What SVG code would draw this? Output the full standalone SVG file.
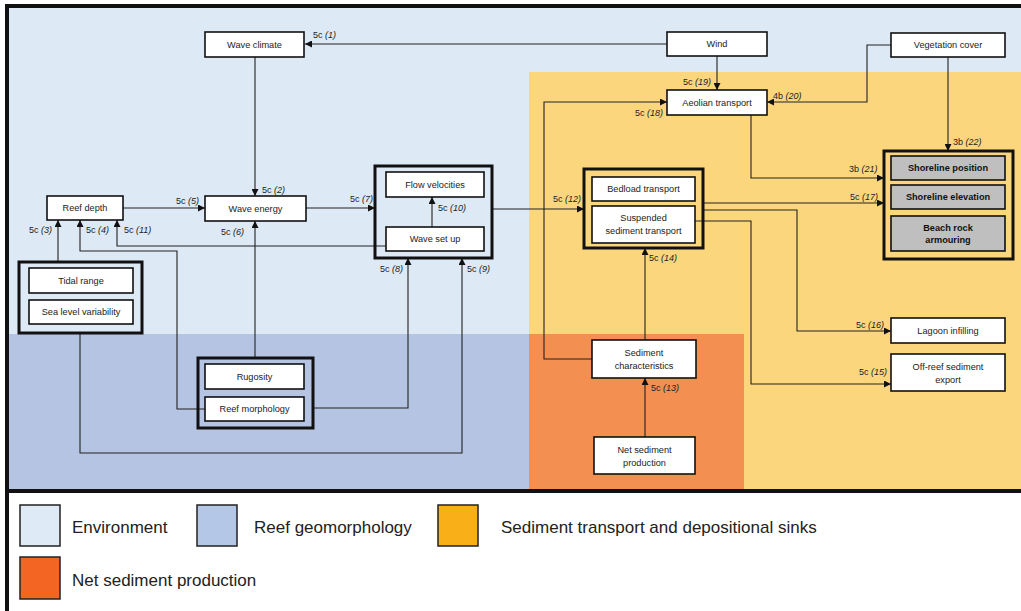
<svg xmlns="http://www.w3.org/2000/svg" width="1021" height="611" viewBox="0 0 1021 611">
<style>
.n{fill:#fff;stroke:#111;stroke-width:1.6}
.g{fill:none;stroke:#111;stroke-width:3}
.s{fill:#bfbfbf;stroke:#111;stroke-width:1.6}
.t{font-family:"Liberation Sans",Arial,sans-serif;font-size:9.2px;fill:#222;text-anchor:middle}
.b{font-weight:bold;fill:#111}
.l{font-family:"Liberation Sans",Arial,sans-serif;font-size:9px;fill:#222}
.l tspan{font-style:italic}
.c{fill:none;stroke:#222;stroke-width:1.1;marker-end:url(#ah)}
.lg{font-family:"Liberation Sans",Arial,sans-serif;font-size:17px;fill:#222}
.sw{stroke:#222;stroke-width:1.5}
</style>
<defs>
<marker id="ah" viewBox="0 0 10 10" refX="10" refY="5" markerWidth="7" markerHeight="7" markerUnits="userSpaceOnUse" orient="auto"><path d="M0,0 L10,5 L0,10 z" fill="#111"/></marker>
</defs>
<rect x="0" y="0" width="1021" height="611" fill="#fff"/>
<g id="regions">
<rect x="9" y="8" width="1012" height="481" fill="#dde9f4"/>
<rect x="9" y="334" width="520" height="155" fill="#b4c4e2"/>
<rect x="529" y="72" width="492" height="417" fill="#fcd67d"/>
<rect x="529" y="334" width="215" height="155" fill="#f38f50"/>
<rect x="5" y="4" width="1016" height="4" fill="#111"/>
<rect x="5" y="4" width="4" height="607" fill="#111"/>
<rect x="5" y="489" width="1016" height="4" fill="#111"/>
</g>
<g id="connectors">
<path class="c" d="M667,44 H305"/>
<path class="c" d="M255,57 V196"/>
<path class="c" d="M123,208 H205"/>
<path class="c" d="M58,262 V220"/>
<path class="c" d="M205,409 H177 V251 H80 V220"/>
<path class="c" d="M386,246 H117 V220"/>
<path class="c" d="M255,358 V221"/>
<path class="c" d="M306,208 H375"/>
<path class="c" d="M432,227 V197"/>
<path class="c" d="M313,408 H408 V258"/>
<path class="c" d="M80,333 V453 H462 V258"/>
<path class="c" d="M492,209 H584"/>
<path class="c" d="M645,437 V378"/>
<path class="c" d="M645,340 V248"/>
<path class="c" d="M592,359 H544 V102 H667"/>
<path class="c" d="M717,56 V90"/>
<path class="c" d="M891,45 H867 V102 H767"/>
<path class="c" d="M948,57 V151"/>
<path class="c" d="M751,115 V178 H884"/>
<path class="c" d="M703,203 H884"/>
<path class="c" d="M703,210 H797 V331 H891"/>
<path class="c" d="M695,221 H751 V384 H891"/>
</g>
<g id="labels">
<text class="l" x="313" y="38">5c <tspan>(1)</tspan></text>
<text class="l" x="262" y="193">5c <tspan>(2)</tspan></text>
<text class="l" x="29" y="233">5c <tspan>(3)</tspan></text>
<text class="l" x="86" y="233">5c <tspan>(4)</tspan></text>
<text class="l" x="176" y="204">5c <tspan>(5)</tspan></text>
<text class="l" x="221" y="235">5c <tspan>(6)</tspan></text>
<text class="l" x="350" y="202">5c <tspan>(7)</tspan></text>
<text class="l" x="380" y="272">5c <tspan>(8)</tspan></text>
<text class="l" x="467" y="272">5c <tspan>(9)</tspan></text>
<text class="l" x="438" y="211">5c <tspan>(10)</tspan></text>
<text class="l" x="124" y="233">5c <tspan>(11)</tspan></text>
<text class="l" x="553" y="202">5c <tspan>(12)</tspan></text>
<text class="l" x="651" y="391">5c <tspan>(13)</tspan></text>
<text class="l" x="649" y="261">5c <tspan>(14)</tspan></text>
<text class="l" x="859" y="375">5c <tspan>(15)</tspan></text>
<text class="l" x="856" y="328">5c <tspan>(16)</tspan></text>
<text class="l" x="850" y="200">5c <tspan>(17)</tspan></text>
<text class="l" x="635" y="116">5c <tspan>(18)</tspan></text>
<text class="l" x="683" y="85">5c <tspan>(19)</tspan></text>
<text class="l" x="773" y="99">4b <tspan>(20)</tspan></text>
<text class="l" x="849" y="172">3b <tspan>(21)</tspan></text>
<text class="l" x="953" y="145">3b <tspan>(22)</tspan></text>
</g>
<g id="wave-climate"><rect class="n" x="205" y="32" width="99" height="25"/><text class="t" x="254.5" y="47.5">Wave climate</text></g>
<g id="wind"><rect class="n" x="667" y="32" width="100" height="24"/><text class="t" x="717" y="47">Wind</text></g>
<g id="vegetation-cover"><rect class="n" x="891" y="33" width="114" height="24"/><text class="t" x="948" y="48">Vegetation cover</text></g>
<g id="aeolian-transport"><rect class="n" x="667" y="90" width="100" height="25"/><text class="t" x="717" y="105.5">Aeolian transport</text></g>
<g id="reef-depth"><rect class="n" x="47" y="196" width="76" height="24"/><text class="t" x="85" y="211">Reef depth</text></g>
<g id="wave-energy"><rect class="n" x="205" y="196" width="101" height="25"/><text class="t" x="255.5" y="211.5">Wave energy</text></g>
<g id="tide-sea-level">
<rect class="g" x="19" y="262" width="123" height="71"/>
<rect class="n" x="29" y="268" width="104" height="25"/><text class="t" x="81" y="283.5">Tidal range</text>
<rect class="n" x="29" y="300" width="104" height="24"/><text class="t" x="81" y="315">Sea level variability</text>
</g>
<g id="flow-group">
<rect class="g" x="375" y="166" width="117" height="92"/>
<rect class="n" x="386" y="172" width="98" height="25"/><text class="t" x="435" y="187.5">Flow velocities</text>
<rect class="n" x="386" y="227" width="98" height="24"/><text class="t" x="435" y="242">Wave set up</text>
</g>
<g id="transport-group">
<rect class="g" x="584" y="169" width="119" height="79"/>
<rect class="n" x="592" y="177" width="103" height="24"/><text class="t" x="643.5" y="192">Bedload transport</text>
<rect class="n" x="592" y="206" width="103" height="37"/><text class="t" x="643.5" y="221">Suspended</text><text class="t" x="643.5" y="233.5">sediment transport</text>
</g>
<g id="shoreline-group">
<rect class="g" x="884" y="151" width="129" height="108"/>
<rect class="s" x="891" y="156" width="114" height="24"/><text class="t b" x="948" y="171">Shoreline position</text>
<rect class="s" x="891" y="185" width="114" height="24"/><text class="t b" x="948" y="200">Shoreline elevation</text>
<rect class="s" x="891" y="216" width="114" height="35"/><text class="t b" x="948" y="230.5">Beach rock</text><text class="t b" x="948" y="243">armouring</text>
</g>
<g id="reef-group">
<rect class="g" x="198" y="358" width="115" height="70"/>
<rect class="n" x="205" y="364" width="99" height="25"/><text class="t" x="254.5" y="379.5">Rugosity</text>
<rect class="n" x="205" y="397" width="99" height="24"/><text class="t" x="254.5" y="412">Reef morphology</text>
</g>
<g id="sediment-characteristics"><rect class="n" x="592" y="340" width="104" height="38"/><text class="t" x="644" y="356">Sediment</text><text class="t" x="644" y="368.5">characteristics</text></g>
<g id="net-sediment-production"><rect class="n" x="594" y="437" width="101" height="37"/><text class="t" x="644.5" y="453">Net sediment</text><text class="t" x="644.5" y="465.5">production</text></g>
<g id="lagoon-infilling"><rect class="n" x="891" y="318" width="114" height="25"/><text class="t" x="948" y="333.5">Lagoon infilling</text></g>
<g id="off-reef-export"><rect class="n" x="891" y="354" width="114" height="37"/><text class="t" x="948" y="370">Off-reef sediment</text><text class="t" x="948" y="382.5">export</text></g>
<g id="legend">
<rect class="sw" x="20" y="505" width="40" height="41" fill="#deebf7"/>
<text class="lg" x="72" y="533">Environment</text>
<rect class="sw" x="197" y="505" width="40" height="41" fill="#b4c7e7"/>
<text class="lg" x="254" y="533">Reef geomorphology</text>
<rect class="sw" x="438" y="505" width="40" height="41" fill="#f9b018"/>
<text class="lg" x="501" y="533">Sediment transport and depositional sinks</text>
<rect class="sw" x="20" y="557" width="40" height="42" fill="#f26522"/>
<text class="lg" x="72" y="586">Net sediment production</text>
</g>
</svg>
